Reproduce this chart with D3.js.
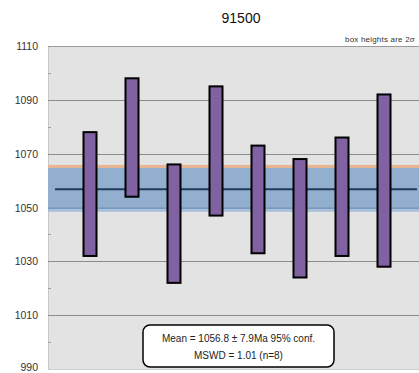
<!DOCTYPE html>
<html><head><meta charset="utf-8">
<script src="https://cdn.jsdelivr.net/npm/d3@7"></script>
<style>body{margin:0;background:#fff;}svg{display:block;font-family:"Liberation Sans",Arial,sans-serif;}</style>
</head><body><svg id="c" width="419" height="373"></svg>
<script>
const title = "91500";
const analyses = [1,2,3,4,5,6,7,8];
const boxTop = [1078,1098,1066,1095,1073,1068,1076,1092];
const boxBottom = [1032,1054,1022,1047,1033,1024,1032,1028];
const meanAge = 1056.8;
const meanErr = 7.9;
const yTicks = [990,1010,1030,1050,1070,1090,1110];
const yMinor = [1000,1020,1040,1060,1080,1100];
const noteLines = ["Mean = 1056.8 \u00b1 7.9Ma 95% conf.","MSWD = 1.01 (n=8)"];
const cornerNote = "box heights are 2\u03c3";

const svg = d3.select("#c");
const x = d3.scaleLinear().domain([0,9]).range([48,426]);
const y = d3.scaleLinear().domain([990,1110]).range([369,46]);

svg.append("rect").attr("x",48).attr("y",y(1110)).attr("width",419-48).attr("height",y(990)-y(1110)).attr("fill","#e3e3e3");
svg.append("line").attr("x1",48.5).attr("x2",48.5).attr("y1",y(1110)).attr("y2",y(990)).attr("stroke","#c8c8c8");
svg.selectAll("line.grid").data(yTicks.filter(d=>d>990)).join("line").attr("class","grid")
  .attr("x1",48).attr("x2",419).attr("y1",d=>Math.round(y(d))+0.5).attr("y2",d=>Math.round(y(d))+0.5)
  .attr("stroke",d=>d===1110?"#9a9a9a":"#8c8c8c").attr("stroke-width",1);
svg.append("line").attr("x1",48).attr("x2",419).attr("y1",Math.round(y(990))+0.5).attr("y2",Math.round(y(990))+0.5).attr("stroke","#cfcfcf");
svg.selectAll("line.minor").data(yMinor).join("line").attr("class","minor")
  .attr("x1",48).attr("x2",51).attr("y1",d=>Math.round(y(d))+0.5).attr("y2",d=>Math.round(y(d))+0.5).attr("stroke","#a0a0a0");
svg.selectAll("text.yl").data(yTicks).join("text").attr("class","yl")
  .attr("x",38).attr("y",d=>Math.min(y(d)+4,371)).attr("text-anchor","end").attr("font-size","10.5px").attr("fill","#333").text(d=>d);

svg.append("rect").attr("x",48).attr("width",419-48).attr("y",y(meanAge+meanErr)-3).attr("height",3).attr("fill","#e9b48e");
svg.append("rect").attr("x",48).attr("width",419-48).attr("y",y(meanAge+meanErr)).attr("height",y(meanAge-meanErr)-y(meanAge+meanErr)+1).attr("fill","#93afcf");
svg.append("rect").attr("x",48).attr("width",419-48).attr("y",y(meanAge-meanErr)-3).attr("height",1.5).attr("fill","#7997bb");
svg.append("rect").attr("x",48).attr("width",419-48).attr("y",y(meanAge-meanErr)-1.5).attr("height",2.5).attr("fill","#a9c0dc");
svg.append("line").attr("x1",55).attr("x2",417).attr("y1",y(meanAge)).attr("y2",y(meanAge)).attr("stroke","#1f3a5a").attr("stroke-width",2);

const bw = 13;
svg.selectAll("rect.box").data(analyses).join("rect").attr("class","box")
  .attr("x",(d,i)=>x(d)-bw/2).attr("width",bw)
  .attr("y",(d,i)=>y(boxTop[i])).attr("height",(d,i)=>y(boxBottom[i])-y(boxTop[i]))
  .attr("fill","#8061a1").attr("stroke","#000").attr("stroke-width",2);

svg.append("text").attr("x",241).attr("y",23).attr("text-anchor","middle").attr("font-size","14px").attr("fill","#111").text(title);
svg.append("text").attr("x",345).attr("y",42).attr("font-size","8px").attr("letter-spacing","0.2px").attr("fill","#333").text(cornerNote);

svg.append("rect").attr("x",143).attr("y",325).attr("width",191).attr("height",42).attr("rx",7)
  .attr("fill","#fff").attr("stroke","#000").attr("stroke-width",1.5);
svg.selectAll("text.note").data(noteLines).join("text").attr("class","note")
  .attr("x",238.5).attr("y",(d,i)=>342+i*17).attr("text-anchor","middle").attr("font-size","10px").attr("fill","#222").text(d=>d);
</script></body></html>
